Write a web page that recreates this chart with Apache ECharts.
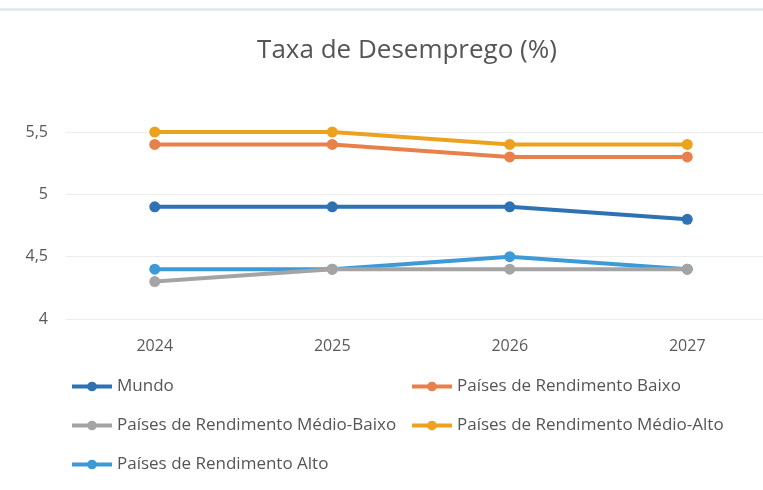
<!DOCTYPE html>
<html><head><meta charset="utf-8">
<script src="https://cdn.jsdelivr.net/npm/echarts@6/dist/echarts.min.js"></script>
<style>html,body{margin:0;padding:0;background:#fff;overflow:hidden}#c{width:820px;height:490px}</style>
</head><body><div id="c"></div>
<script>
var categories = ['2024','2025','2026','2027'];
var mundo = [4.9, 4.9, 4.9, 4.8];
var baixo = [5.4, 5.4, 5.3, 5.3];
var medioBaixo = [4.3, 4.4, 4.4, 4.4];
var medioAlto = [5.5, 5.5, 5.4, 5.4];
var alto = [4.4, 4.4, 4.5, 4.4];
var names = ['Mundo','Países de Rendimento Baixo','Países de Rendimento Médio-Baixo','Países de Rendimento Médio-Alto','Países de Rendimento Alto'];
var colors = ['#2f72b4','#e8804a','#a4a4a4','#eda21e','#3d9ad6'];
var values = [mundo, baixo, medioBaixo, medioAlto, alto];
var font = 'Open Sans';
var chart = echarts.init(document.getElementById('c'));
var series = values.map(function(v,i){
  return {name:names[i], type:'line', data:v, symbol:'circle', symbolSize:11,
    lineStyle:{width:4,color:colors[i]}, itemStyle:{color:colors[i]}, z: 10-i};
});
var legendCommon = {orient:'vertical', itemWidth:40, itemHeight:12, itemGap:22,
  lineStyle:{width:4},
  textStyle:{fontFamily:font, fontSize:17, color:'#555'}};
chart.setOption({
  backgroundColor:'#fff',
  animation:false,
  title:{text:'Taxa de Desemprego (%)', left:402, textAlign:'center', top:33,
    textStyle:{fontFamily:font, fontSize:26, fontWeight:'normal', color:'#555'}},
  graphic:[{type:'rect', shape:{x:0,y:8,width:820,height:3}, style:{fill:'#e3ecec'}}],
  grid:{left:66, top:132, width:710, height:187},
  xAxis:{type:'category', data:categories, boundaryGap:true,
    axisLine:{show:false}, axisTick:{show:false},
    axisLabel:{fontFamily:font, fontSize:16, color:'#595959', margin:19}},
  yAxis:{type:'value', min:4, max:5.5, interval:0.5,
    axisLine:{show:false}, axisTick:{show:false},
    splitLine:{lineStyle:{color:'#ececec', width:1}},
    axisLabel:{fontFamily:font, fontSize:16, color:'#595959', margin:18,
      formatter:function(v){return String(v).replace('.',',');}}},
  legend:[
    Object.assign({}, legendCommon, {left:65, top:373, data:[names[0],names[2],names[4]]}),
    Object.assign({}, legendCommon, {left:405, top:373, data:[names[1],names[3]]})
  ],
  series: series
});
</script></body></html>
